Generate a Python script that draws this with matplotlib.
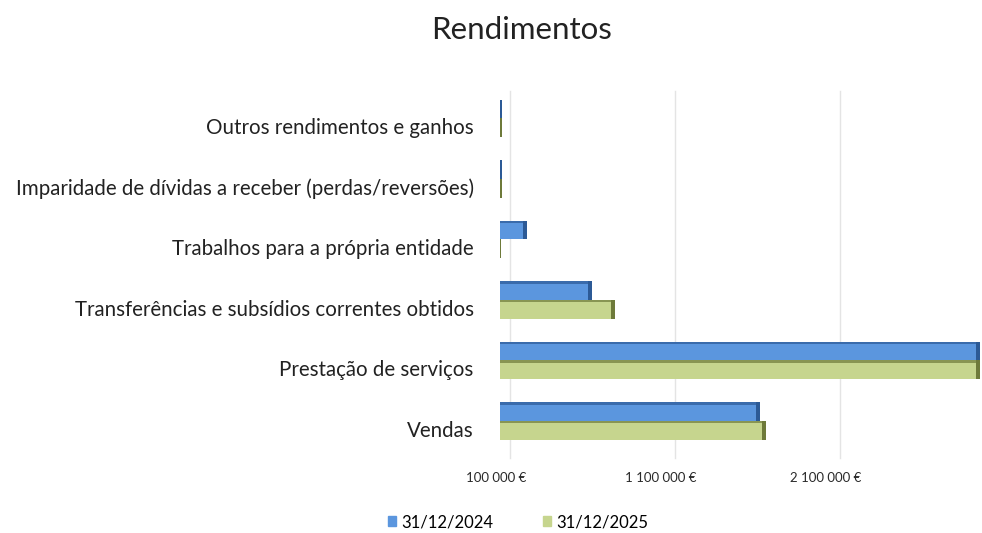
import matplotlib
matplotlib.use("Agg")
import matplotlib.pyplot as plt
import matplotlib.transforms as mtransforms
from matplotlib.patches import Patch
import numpy as np

categories = ["Vendas", "Prestação de serviços",
              "Transferências e subsídios correntes obtidos",
              "Trabalhos para a própria entidade",
              "Imparidade de dívidas a receber (perdas/reversões)",
              "Outros rendimentos e ganhos"]
values_2024 = [1675000, 3010000, 655000, 265000, 112000, 112000]
values_2025 = [1715000, 3010000, 795000, 106000, 110000, 110000]
series_labels = ["31/12/2024", "31/12/2025"]
tick_values = [100000, 1100000, 2100000]
tick_labels = ["100 000 €", "1 100 000 €", "2 100 000 €"]

blue, blue_dark = "#5B96DE", "#2C5A96"
green, green_dark = "#C6D58E", "#6E7A3A"

plt.rcParams['font.family'] = ['Lato', 'DejaVu Sans']
fig = plt.figure(figsize=(9.82, 5.33), dpi=100)
ax = fig.add_axes([500/982, 1-458/533, 482/982, 358/533])

xmin, xmax = 100000, 3021000
ymin, ymax = -0.61, 5.3
ax.set_xlim(xmin, xmax)
ax.set_ylim(ymin, ymax)

y = np.arange(len(categories))
h = 0.31
cap = (xmax - xmin) / 482 * 4  # ~4px darker end face

for vals, off, col, dcol in [(values_2024, h/2, blue, blue_dark),
                             (values_2025, -h/2, green, green_dark)]:
    w = np.array(vals) - xmin
    ax.barh(y + off, w, left=xmin, height=h, color=col, edgecolor='none', zorder=3)
    ax.barh(y + off, np.full(len(w), cap), left=np.array(vals) - cap, height=h,
            color=dcol, edgecolor='none', zorder=4)
    ax.barh(y + off + h/2 - 0.02, w, left=xmin, height=0.04, color=dcol,
            edgecolor='none', zorder=4, alpha=0.7)

# gridlines shifted right (3D back wall)
grid_tr = ax.transData + mtransforms.ScaledTranslation(10/100, 0, fig.dpi_scale_trans)
for t in tick_values:
    ax.plot([t, t], [ymin, ymax + 0.15], color="#E4E4E4", lw=1, transform=grid_tr,
            zorder=1, clip_on=False)

ax.set_xticks(tick_values)
ax.set_xticklabels(tick_labels, fontsize=9.5, color="#2a2a2a")
ax.tick_params(axis='x', length=0, pad=10)
lab_off = mtransforms.ScaledTranslation(-4/100, 0, fig.dpi_scale_trans)
for lbl in ax.get_xticklabels():
    lbl.set_transform(lbl.get_transform() + lab_off)

ax.set_yticks(y)
ax.set_yticklabels(categories, fontsize=14.8, color="#222222")
ax.tick_params(axis='y', length=0, pad=19)
ylab_off = mtransforms.ScaledTranslation(0, -8/100, fig.dpi_scale_trans)
for lbl in ax.get_yticklabels():
    lbl.set_transform(lbl.get_transform() + ylab_off)

for s in ax.spines.values():
    s.set_visible(False)

fig.text(522/982, 1-30/533, "Rendimentos", ha='center', va='center',
         fontsize=22.5, color="#222222")

handles = [Patch(color=blue, label=series_labels[0]),
           Patch(color=green, label=series_labels[1])]
fig.legend(handles=handles, loc='center', bbox_to_anchor=(518/982, 1-522/533),
           ncol=2, frameon=False, fontsize=12, handlelength=0.5, handleheight=0.5,
           handletextpad=0.3, columnspacing=3.0)

fig.savefig("out.png", dpi=100)
